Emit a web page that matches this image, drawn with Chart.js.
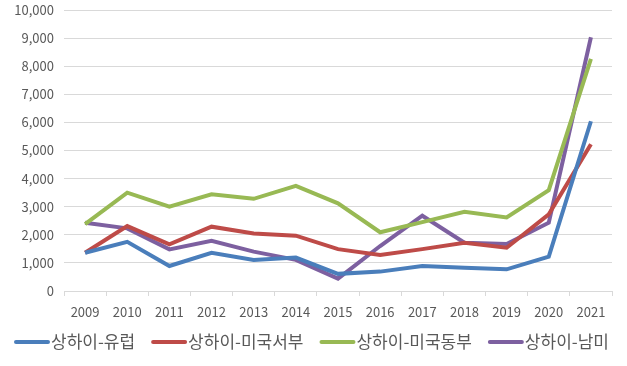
<!DOCTYPE html>
<html>
<head>
<meta charset="utf-8">
<script src="https://cdn.jsdelivr.net/npm/chart.js@4.4.0/dist/chart.umd.min.js"></script>
<style>
html,body{margin:0;padding:0;background:#fff;}
#wrap{width:627px;height:366px;}
</style>
</head>
<body>
<div id="wrap"><canvas id="c" width="627" height="366"></canvas></div>
<script>
const years = ['2009','2010','2011','2012','2013','2014','2015','2016','2017','2018','2019','2020','2021'];
const europe   = [1360,1750, 890,1360,1100,1190, 610, 690, 890, 830, 770,1220,6040];
const usWest   = [1360,2310,1660,2290,2050,1970,1490,1280,1490,1720,1540,2730,5220];
const usEast   = [2380,3500,3000,3440,3280,3740,3120,2090,2450,2820,2620,3590,8260];
const southAm  = [2430,2230,1480,1790,1400,1110, 440,1600,2680,1720,1670,2430,9030];
const seriesNames = ['상하이-유럽','상하이-미국서부','상하이-미국동부','상하이-남미'];
const colors = ['#4A7EBB','#BE4B48','#98B954','#7D60A0'];
const yMin = 0, yMax = 10000, yStep = 1000;

const font = "'Noto Sans CJK KR','Noto Sans',sans-serif";
const allData = [europe, usWest, usEast, southAm];
const datasets = allData.map((d,i)=>({
  label: seriesNames[i],
  data: d,
  borderColor: colors[i],
  backgroundColor: colors[i],
  borderWidth: 4,
  pointRadius: 0,
  tension: 0,
  fill: false
}));

const lineLegend = {
  id: 'lineLegend',
  afterDraw(chart) {
    const ctx = chart.ctx;
    const y = 342;
    let x = 14;
    ctx.save();
    ctx.font = "17px " + font;
    ctx.textBaseline = 'middle';
    chart.data.datasets.forEach(ds => {
      ctx.strokeStyle = ds.borderColor;
      ctx.lineWidth = 4;
      ctx.lineCap = 'round';
      ctx.beginPath();
      ctx.moveTo(x + 2, y);
      ctx.lineTo(x + 34, y);
      ctx.stroke();
      x += 37;
      ctx.fillStyle = '#595959';
      ctx.fillText(ds.label, x, y);
      x += ctx.measureText(ds.label).width + 16;
    });
    ctx.restore();
  }
};

new Chart(document.getElementById('c'), {
  type: 'line',
  data: { labels: years, datasets },
  plugins: [lineLegend],
  options: {
    responsive: false,
    animation: false,
    layout: { padding: { top: 10, right: 15, left: 0, bottom: 44 } },
    plugins: {
      tooltip: { enabled: false },
      legend: { display: false }
    },
    scales: {
      x: {
        offset: true,
        afterFit: s => { s.height = 31; s.paddingLeft = 0; s.paddingRight = 0; },
        border: { display: true, color: '#D9D9D9', width: 1 },
        grid: { display: true, offset: true, drawOnChartArea: false, drawTicks: true, tickLength: 5, color: '#D9D9D9' },
        ticks: { color: '#595959', font: { family: font, size: 13 }, padding: 8, maxRotation: 0, autoSkip: false }
      },
      y: {
        min: yMin, max: yMax,
        afterFit: s => { s.width = 64; s.paddingTop = 0; s.paddingBottom = 0; },
        border: { display: false },
        grid: { color: '#D9D9D9', lineWidth: 1, drawTicks: false },
        ticks: {
          stepSize: yStep,
          padding: 10,
          color: '#595959',
          font: { family: font, size: 13 },
          callback: v => v.toLocaleString('en-US')
        }
      }
    }
  }
});
</script>
</body>
</html>
